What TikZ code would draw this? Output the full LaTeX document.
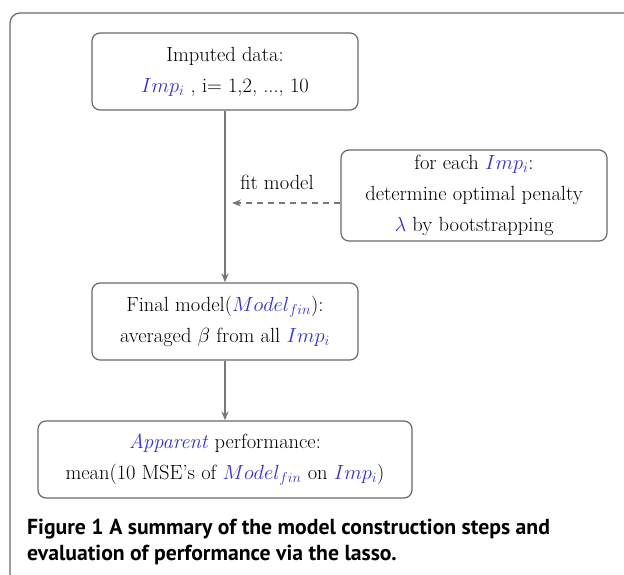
\RequirePackage{fix-cm}
\documentclass[tikz,border=0pt]{standalone}
\usepackage{fontspec}
\usetikzlibrary{arrows.meta}
\newfontfamily\capfont{PT Sans}
\definecolor{linegray}{RGB}{120,120,120}
\definecolor{boxgray}{RGB}{105,105,105}
\definecolor{mblue}{RGB}{55,50,200}
\newcommand{\bl}[1]{\textcolor{mblue}{#1}}
\begin{document}
\begin{tikzpicture}[x=1pt,y=-1pt,
  box/.style={draw=boxgray, line width=1.2pt, rounded corners=8pt, fill=white,
    align=center, inner sep=0pt, font=\fontsize{20.5}{31}\selectfont},
  flow/.style={draw=linegray, line width=1.6pt, -{Stealth[length=9pt,width=7pt]}},
  dflow/.style={draw=linegray, line width=1.4pt, dash pattern=on 6pt off 5pt, -{Stealth[length=9pt,width=7pt]}},
  captxt/.style={font=\capfont\bfseries\fontsize{21.7}{26}\selectfont, anchor=base west, inner sep=0pt}]
\useasboundingbox (0,0) rectangle (624,575);
\draw[boxgray, line width=1.2pt, rounded corners=10pt] (640,13) -- (10,13) -- (10,590);
\node[box, minimum width=266pt, minimum height=77pt] (imp) at (225,71.5)
  {Imputed data:\\ \bl{$Imp_i$} , i= 1,2, ..., 10};
\node[box, minimum width=266pt, minimum height=91pt] (side) at (474,195.5)
  {for each \bl{$Imp_i$}:\\ determine optimal penalty\\ \bl{$\lambda$} by bootstrapping};
\node[box, minimum width=266pt, minimum height=77pt] (fin) at (225,321.5)
  {Final model(\bl{$Model_{fin}$}):\\ averaged $\beta$ from all \bl{$Imp_i$}};
\node[box, minimum width=374pt, minimum height=77pt] (app) at (225,459.5)
  {\bl{\textit{Apparent}} performance:\\ mean(10 MSE's of \bl{$Model_{fin}$} on \bl{$Imp_i$})};
\coordinate (fitend) at (232,203);
\draw[flow] (imp) -- (fin);
\draw[flow] (fin) -- (app);
\draw[dflow] (side.west |- fitend) -- (fitend);
\node[font=\fontsize{20.5}{24}\selectfont, anchor=center] (fit) at (277,182) {fit model};
\node[captxt] (cap1) at (27,534) {Figure 1 A summary of the model construction steps and};
\node[captxt] (cap2) at (27,560) {evaluation of performance via the lasso.};
\end{tikzpicture}
\end{document}
